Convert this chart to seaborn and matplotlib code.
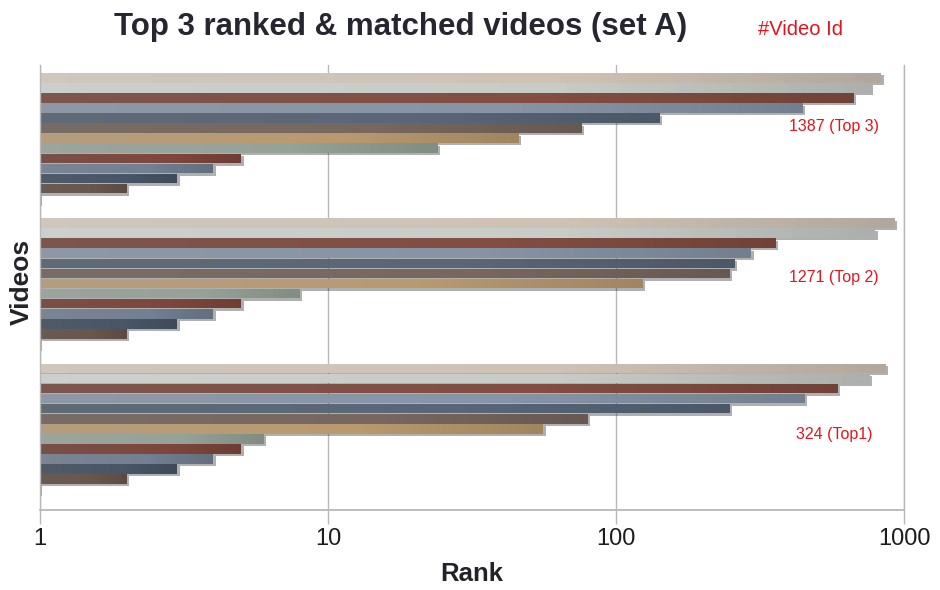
import numpy as np
import pandas as pd
import matplotlib
matplotlib.use("Agg")
import matplotlib.pyplot as plt
import seaborn as sns
from matplotlib import patheffects as pe
from matplotlib import colors as mcolors
from matplotlib import transforms as mtrans
from matplotlib.ticker import FixedLocator, FuncFormatter, NullLocator

# ---- data -------------------------------------------------------------
videos = ["1387 (Top 3)", "1271 (Top 2)", "324 (Top1)"]
queries = [f"q{i}" for i in range(1, 14)]

rank_1387 = [834, 767, 671, 446, 142, 76, 46, 24, 5, 4, 3, 2, 1]
rank_1271 = [929, 796, 358, 295, 259, 249, 124, 8, 5, 4, 3, 2, 1]
rank_324 = [865, 760, 589, 452, 249, 80, 56, 6, 5, 4, 3, 2, 1]

x_ticks = [1, 10, 100, 1000]

palette = ["#d2c2b0", "#c6cdc7", "#8e4636", "#8093ab", "#52657d", "#7b665a",
           "#c69c62", "#93a498", "#8a3f30", "#6c7f98", "#43556c", "#6d5547",
           "#d2c2b0"]

df = pd.DataFrame({
    "video": np.repeat(videos, len(queries)),
    "query": queries * len(videos),
    "rank": rank_1387 + rank_1271 + rank_324,
})

# ---- style --------------------------------------------------------------
sns.set_theme(style="white")
plt.rcParams["font.family"] = ["Liberation Sans", "DejaVu Sans"]

fig = plt.figure(figsize=(9.4, 5.9), dpi=100)
ax = fig.add_axes([40 / 940, 80 / 590, 864 / 940, 445 / 590])

sns.barplot(data=df, y="video", x="rank", hue="query", order=videos,
            hue_order=queries, palette=palette, orient="h", width=0.9,
            gap=0.03, errorbar=None, legend=False, log_scale=True,
            linewidth=0, ax=ax)

ax.set_xscale("log")
ax.set_xlim(1, 1000)
ax.set_ylim(2.56, -0.505)


def _shade(rgb, t):
    """Left part washed toward grey, middle pure, right end darker."""
    rgb = np.asarray(rgb[:3])
    grey = np.full(3, rgb.mean() + 0.06)
    left = np.clip(0.72 * rgb + 0.28 * grey, 0, 1)
    right = rgb * 0.86
    out = np.empty((len(t), 3))
    for i, v in enumerate(t):
        if v < 0.62:
            a = v / 0.62
            out[i] = (1 - a) * left + a * rgb
        else:
            a = (v - 0.62) / 0.38
            out[i] = (1 - a) * rgb + a * right
    return out


# gradient fill + soft drop shadow on every bar
lo = ax.get_xlim()[0]
for patch in list(ax.patches):
    x0 = patch.get_x()
    x1 = x0 + patch.get_width()
    y0 = patch.get_y()
    h = patch.get_height()
    patch.set_path_effects([
        pe.SimplePatchShadow(offset=(1.6, -1.6), shadow_rgbFace="#303030", alpha=0.38),
        pe.Normal(),
    ])
    patch.set_zorder(2)
    if x1 <= lo * 1.001:
        continue
    n = 60
    xs = np.geomspace(max(x0, lo), x1, n + 1)
    t = (np.arange(n) + 0.5) / n
    cols = _shade(mcolors.to_rgb(patch.get_facecolor()), t)[None, :, :]
    ax.pcolormesh(xs, [y0, y0 + h], cols, shading="flat", zorder=2.5,
                  linewidth=0, antialiased=False)

# ---- axes ---------------------------------------------------------------
grid_c = "#b8b8b8"
ax.set_axisbelow(True)
ax.grid(axis="x", which="major", color=grid_c, lw=1)
ax.grid(axis="y", visible=False)
ax.xaxis.set_major_locator(FixedLocator(x_ticks))
ax.xaxis.set_minor_locator(NullLocator())
ax.xaxis.set_major_formatter(FuncFormatter(lambda v, p: f"{int(round(v))}"))
ax.tick_params(axis="x", which="major", bottom=True, direction="out",
               length=10, width=1, color=grid_c, labelsize=17,
               labelcolor="#1c1c1c", pad=3)
ax.set_yticks([])
ax.set_xlabel("")
ax.set_ylabel("")
ax.spines["top"].set_visible(False)
for side in ("left", "right"):
    ax.spines[side].set_color(grid_c)
    ax.spines[side].set_linewidth(1)
ax.spines["bottom"].set_color(grid_c)
ax.spines["bottom"].set_linewidth(1.3)

# video id labels inside the plot
label_offsets = [-0.08, -0.04, 0.04]
trans = mtrans.blended_transform_factory(ax.transAxes, ax.transData)
for i, (name, dy) in enumerate(zip(videos, label_offsets)):
    ax.text(0.919, i + dy, name, transform=trans, ha="center", va="center",
            fontsize=11.5, color="#e3141c", zorder=5)

# ---- titles -------------------------------------------------------------
fig.text(401 / 940, 1 - 35 / 590, "Top 3 ranked & matched videos (set A)",
         ha="center", va="baseline", fontsize=22.5, fontweight="bold",
         color="#262630")
fig.text(800 / 940, 1 - 35 / 590, "#Video Id", ha="center", va="baseline",
         fontsize=14.5, color="#e3141c")
fig.text(472 / 940, 1 - 581 / 590, "Rank", ha="center", va="baseline",
         fontsize=18.5, fontweight="bold", color="#222228")
fig.text(22 / 940, 1 - 282 / 590, "Videos", ha="center", va="center",
         rotation=90, fontsize=19, fontweight="bold", color="#222228")

fig.savefig("out.png", dpi=100, facecolor="white")
